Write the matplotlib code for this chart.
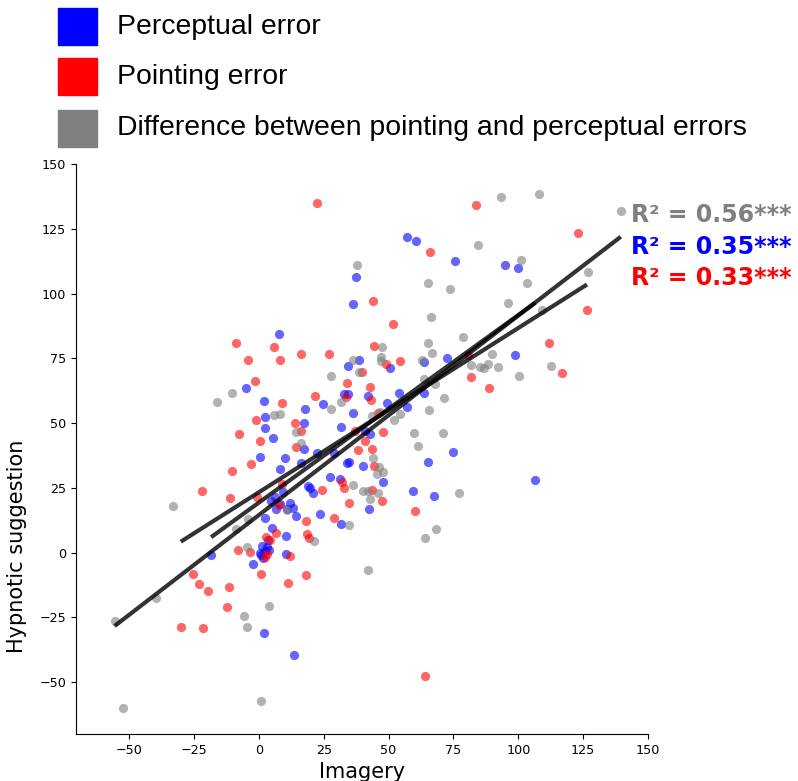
import numpy as np
import matplotlib

matplotlib.use("Agg")

import matplotlib.pyplot as plt
from matplotlib.patches import Rectangle

# perceptual error (blue)
blue_x = [37.3, 36.3, 7.6, 34.3, 38.5, 57.3, 60.4, 75.8, 95.0, 99.9, 72.4, 98.7, 63.8, 50.5,
          32.8, 34.5, 41.9, 53.9, 63.7, 49.5, 57.0, 36.2, 31.8, 40.9, 43.0, 75.0, 34.8, 33.8,
          40.3, 65.2, 47.9, 59.3, 67.5, 106.6, 42.3, 31.8, 27.6, 31.3, 19.7, 20.8, 23.5, 22.3,
          28.9, 17.7, 24.6, 17.5, 17.4, 16.1, 2.3, 2.4, 5.3, 0.5, 9.9, 8.0, -5.1, 1.9, 9.4,
          6.4, 4.6, 8.1, 6.6, 12.0, 13.2, 14.5, 18.8, 2.3, 4.9, 10.7, -18.4, -2.4, 1.3, 2.3,
          0.4, 1.7, 3.0, 4.0, 1.0, 3.6, 10.3, 10.5, 2.1, 13.7]
blue_y = [106.3, 95.8, 84.2, 72.2, 74.4, 122.0, 120.3, 112.6, 111.1, 109.7, 75.2, 76.2, 73.5, 71.3,
          61.2, 61.4, 60.5, 61.7, 61.8, 57.6, 56.4, 53.9, 48.6, 46.8, 45.8, 39.0, 35.1, 34.6,
          33.3, 35.0, 27.4, 23.8, 21.7, 28.1, 16.7, 11.1, 29.1, 28.4, 25.0, 22.9, 14.8, 38.5,
          38.5, 55.6, 57.3, 50.2, 40.0, 34.5, 52.2, 48.0, 44.3, 36.8, 36.4, 32.3, 63.5, 58.7, 23.3,
          21.6, 20.1, 18.8, 16.9, 19.0, 17.3, 14.3, 25.9, 13.4, 9.6, 16.9, -1.1, -4.4, 2.4, 0.5,
          -0.1, -2.0, 2.0, 1.0, -0.9, 4.9, 6.6, -0.6, -31.1, -39.7]

# pointing error (red)
red_x = [22.3, 83.7, 65.9, 123.1, 44.1, 126.5, 51.7, 44.5, 111.8, 54.6, 49.2, 80.7, -8.9, 5.7,
         -4.0, 8.0, 16.3, 26.9, 39.7, 116.7, 81.8, 88.6, 34.0, 42.8, 43.1, 33.5, 46.1, 37.2,
         47.9, 40.8, 38.1, 43.5, 44.5, 31.9, 32.7, 43.5, 34.8, 47.3, 60.0, 21.6, 24.3, 29.0,
         18.1, -1.3, 9.0, -1.2, -7.8, 0.4, 14.0, 16.2, 14.3, -3.0, -10.4, -22.1, -11.3, -0.9,
         8.8, 7.8, -25.2, -23.2, -19.5, -11.6, -12.4, -30.1, -21.7, 64.1, 0.9, 11.1, 18.0,
         -8.1, -3.3, 2.5, 3.0, 12.0, 6.8, 4.2, 2.7, 18.4, 19.3]
red_y = [134.9, 134.2, 115.9, 123.3, 97.0, 93.7, 88.4, 79.9, 80.8, 74.1, 72.8, 76.1, 80.8, 79.5,
         74.5, 74.5, 76.5, 76.8, 69.9, 69.5, 67.7, 63.7, 65.5, 64.0, 59.0, 60.2, 53.9, 47.0,
         46.6, 43.0, 39.7, 40.0, 33.3, 27.4, 25.1, 24.2, 19.1, 19.8, 16.1, 60.6, 24.2, 13.2,
         12.2, 66.3, 57.6, 51.2, 45.6, 43.2, 49.9, 46.9, 40.6, 34.4, 31.7, 23.8, 20.9, 21.6,
         26.3, 18.5, -8.3, -12.1, -14.8, -13.4, -21.1, -28.7, -29.0, -47.6, -8.1, -11.7, -8.8,
         1.1, 0.4, -1.8, -0.5, -1.2, 7.5, 4.9, 5.9, 7.0, 5.5]

# difference between pointing and perceptual errors (gray)
gray_x = [37.7, 93.4, 108.1, 139.5, 84.5, 101.0, 127.0, 65.2, 73.5, 103.4, 96.2, 66.3, 78.8,
          109.0, 47.6, 65.2, 66.7, 89.7, 47.2, 62.9, 36.4, 81.8, 85.2, 86.8, 88.5, 92.3, 112.6,
          38.7, 100.3, 63.8, 68.0, 71.3, 31.7, 54.4, 52.1, 65.5, 43.7, 46.7, 59.9, 70.8, 61.4,
          44.1, 46.2, 47.9, 45.4, 77.1, 36.2, 40.0, 42.0, 46.1, 43.0, 34.8, 68.3, 64.2, 28.0,
          27.7, 5.8, 8.1, 14.5, 16.3, -10.4, -16.1, -33.0, 10.7, -4.1, -9.0, 21.2, -4.5, -55.6,
          -39.6, -5.8, -4.7, 3.9, 0.9, -52.3, 41.9, 47.0]
gray_y = [111.2, 137.2, 138.5, 131.7, 118.9, 113.0, 108.4, 104.0, 101.7, 104.0, 96.4, 91.1, 83.1,
          93.7, 79.3, 80.8, 77.2, 76.7, 74.1, 74.5, 74.5, 72.5, 71.8, 71.3, 72.7, 71.8, 72.2,
          69.8, 68.0, 66.9, 64.9, 59.6, 58.3, 53.5, 51.3, 55.0, 52.9, 54.2, 46.3, 46.3, 41.3,
          36.7, 33.0, 31.2, 30.5, 23.0, 26.1, 23.6, 23.6, 23.2, 20.6, 10.8, 9.0, 5.8, 68.2,
          55.3, 53.3, 53.6, 46.5, 42.2, 61.6, 58.3, 18.1, 16.5, 13.0, 9.3, 4.4, 2.0, -26.4,
          -17.4, -24.4, -28.7, -20.5, -57.3, -59.8, -6.8, 75.6]

# fitted lines: (slope, intercept)
blue_fit = (0.724, 19.3)
red_fit = (0.634, 23.3)
gray_fit = (0.770, 14.5)

r2_labels = ["R\u00b2 = 0.56***", "R\u00b2 = 0.35***", "R\u00b2 = 0.33***"]
legend_labels = ["Perceptual error", "Pointing error",
                 "Difference between pointing and perceptual errors"]
ticks = [-50, -25, 0, 25, 50, 75, 100, 125, 150]

BLUE = (0.0, 0.0, 1.0)
RED = (1.0, 0.0, 0.0)
GRAY = (0.5, 0.5, 0.5)


def main():
    fig = plt.figure(figsize=(7.98, 7.81), dpi=100)
    ax = fig.add_axes([0.0952, 0.0602, 0.7168, 0.7298])

    for xs, ys, c in [(blue_x, blue_y, BLUE), (red_x, red_y, RED), (gray_x, gray_y, GRAY)]:
        ax.scatter(xs, ys, s=44, color=c, alpha=0.6, linewidths=0)

    for xs, fit in [(gray_x, gray_fit), (blue_x, blue_fit), (red_x, red_fit)]:
        xx = np.array([min(xs), max(xs)])
        ax.plot(xx, fit[0] * xx + fit[1], color="black", lw=3, alpha=0.8,
                solid_capstyle="butt")

    ax.set_xlim(-70.5, 150)
    ax.set_ylim(-70, 150)
    ax.set_xticks(ticks)
    ax.set_yticks(ticks)
    ax.tick_params(labelsize=9.2)
    ax.spines["top"].set_visible(False)
    ax.spines["right"].set_visible(False)

    ax.set_xlabel("Imagery", fontsize=15)
    ax.set_ylabel("Hypnotic suggestion", fontsize=15)
    ax.yaxis.set_label_coords(-0.085, 0.33)

    # R² annotations
    for lab, c, yy in zip(r2_labels, [GRAY, BLUE, RED], [0.7247, 0.6837, 0.644]):
        fig.text(0.791, yy, lab, color=c, fontsize=17, fontweight="bold",
                 va="center", ha="left")

    # legend squares at the top
    for lab, c, yb, yt in zip(legend_labels, [BLUE, RED, GRAY],
                              [0.9424, 0.8784, 0.8118], [0.9654, 0.9014, 0.8361]):
        fig.patches.append(Rectangle((0.0727, yb), 0.049, 0.0474, color=c,
                                     transform=fig.transFigure, figure=fig))
        fig.text(0.1466, yt, lab, fontsize=20.4, family="Liberation Sans",
                 va="center", ha="left")

    plt.savefig("out.png", dpi=100)


if __name__ == '__main__':
    main()
